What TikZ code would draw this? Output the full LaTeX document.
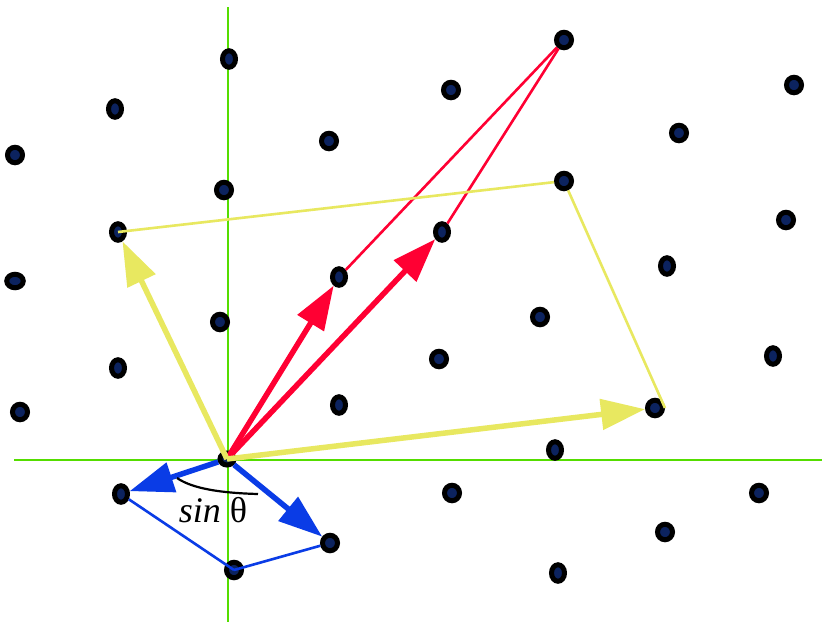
\documentclass[tikz,border=0pt]{standalone}
\usepackage{fontspec}
\setmainfont{Liberation Serif}
\usetikzlibrary{arrows.meta,shapes.geometric}
\definecolor{axgreen}{RGB}{85,221,0}
\definecolor{vred}{RGB}{255,0,51}
\definecolor{vyellow}{RGB}{232,232,96}
\definecolor{vblue}{RGB}{10,60,230}
\definecolor{dotfill}{RGB}{12,35,95}
\tikzset{
  dot/.style={ellipse,draw=black,line width=5pt,fill=dotfill,inner sep=0pt,minimum width=15pt,minimum height=15.5pt},
  dotv/.style={dot,minimum width=13pt,minimum height=16.5pt},
  doth/.style={dot,minimum width=16.5pt,minimum height=13.5pt},
  axis/.style={axgreen,line width=2.6pt},
  thickvec/.style={line width=5.5pt,-{Triangle[length=44pt,width=30pt]}},
  thinvec/.style={line width=2.6pt},
}
\begin{document}
\begin{tikzpicture}[x=1pt,y=-1pt]
\useasboundingbox (0,0) rectangle (822,622);
\fill[white] (0,0) rectangle (822,622);
% axes
\coordinate (xl) at (14,460);
\coordinate (xr) at (822,460);
\coordinate (yt) at (228,7);
\coordinate (yb) at (228,622);
\draw[axis] (xl) -- (xr);
\draw[axis] (yt) -- (yb);
% lattice points
\node[dotv] (p1) at (229,59) {};
\node[dotv] (p2) at (115,109) {};
\node[dot] (p3) at (15,155) {};
\node[dot] (p4) at (329,141) {};
\node[dot] (p5) at (451,90) {};
\node[dot] (p6) at (564,40) {};
\node[dot] (p7) at (679,133) {};
\node[dot] (p8) at (794,85) {};
\node[dot] (p9) at (224,190) {};
\node[dotv] (p10) at (118,232) {};
\node[dot] (p11) at (564,181) {};
\node[dotv] (p12) at (442,232) {};
\node[dot] (p13) at (786,220) {};
\node[doth] (p14) at (15,281) {};
\node[dotv] (p15) at (339,277) {};
\node[dot] (p16) at (220,322) {};
\node[dotv] (p17) at (667,266) {};
\node[dot] (p18) at (540,317) {};
\node[dotv] (p19) at (118,368) {};
\node[dot] (p20) at (439,359) {};
\node[dotv] (p21) at (773,356) {};
\node[dot] (p22) at (20,412) {};
\node[dotv] (p23) at (339,405) {};
\node[dot] (p24) at (655,408) {};
\node[dot,minimum width=14pt,minimum height=12pt] (o) at (227,459) {};
\node[dotv] (p26) at (555,450) {};
\node[dotv] (p27) at (121,494) {};
\node[dot] (p28) at (452,493) {};
\node[dot] (p29) at (759,493) {};
\node[dot] (p30) at (330,543) {};
\node[dot] (p31) at (665,532) {};
\node[dot] (p32) at (234,570) {};
\node[dotv] (p33) at (558,573) {};
% red vectors
\draw[vred,thinvec] (p15) -- (p6);
\draw[vred,thinvec] (p12) -- (p6);
\draw[vred,thickvec] (o.center) -- (p15);
\draw[vred,thickvec] (o.center) -- (p12);
% yellow vectors
\draw[vyellow,thinvec] (p10.center) -- (p11);
\draw[vyellow,thinvec] (p11) -- (p24.east);
\draw[vyellow,thickvec] (o.center) -- (p10);
\draw[vyellow,thickvec] (o.center) -- (p24);
% blue vectors
\draw[vblue,thinvec] (p27) -- (p32.center);
\draw[vblue,thinvec] (p32.center) -- (p30);
\draw[vblue,thickvec] (o) -- (p27);
\draw[vblue,thickvec] (o) -- (p30);
% angle mark and label
\coordinate (a1) at (177,478);
\coordinate (a2) at (258,494);
\draw[black,line width=2.2pt] (a1) .. controls (193,489) and (222,493) .. (a2);
\node[anchor=base,font=\fontsize{36}{42}\selectfont,inner sep=0pt] (lbl) at (213,522) {\textit{sin} θ};
\end{tikzpicture}
\end{document}
